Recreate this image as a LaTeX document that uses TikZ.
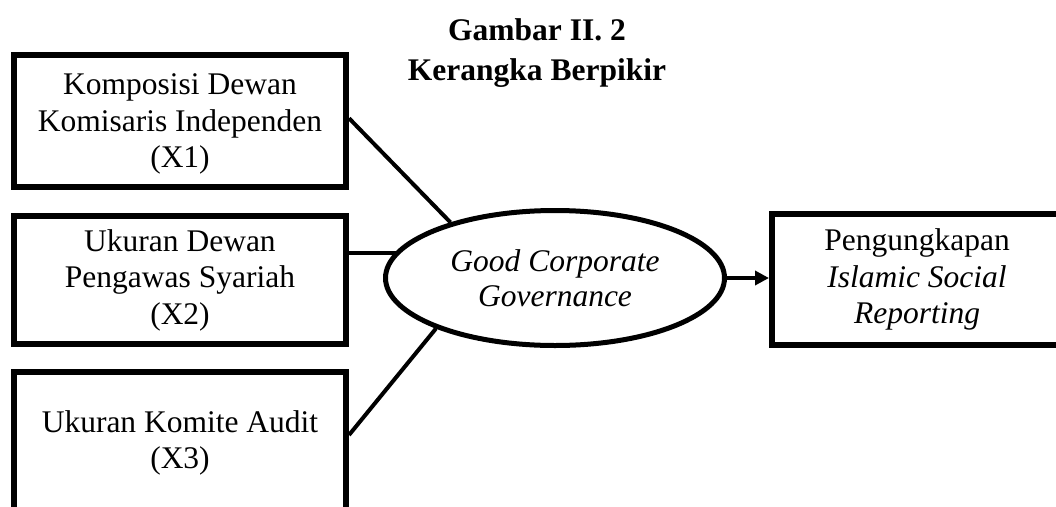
\documentclass[tikz,border=0pt]{standalone}
\usepackage{fontspec}
\setmainfont{Liberation Serif}
\usetikzlibrary{shapes.geometric,arrows.meta,calc,backgrounds}
\begin{document}
\begin{tikzpicture}[x=1pt,y=-1pt,
  txt/.style={font=\fontsize{31.5}{36.5}\selectfont, align=center},
  varbox/.style={txt, draw, line width=6pt, rectangle, inner sep=0pt},
  latent/.style={font=\fontsize{31.5}{35}\selectfont, align=center, draw, fill=white, line width=5pt, ellipse, inner sep=0pt, minimum width=339pt, minimum height=135pt},
  link/.style={line width=4pt},
  titletxt/.style={font=\fontsize{31.5}{40}\selectfont\bfseries, align=center, inner sep=0pt}
]
\useasboundingbox (0,0) rectangle (1056,506);
\clip (0,0) rectangle (1056,506);
\node[titletxt] (title) at (537,53) {Gambar II. 2\\Kerangka Berpikir};
\node[varbox, minimum width=332pt, minimum height=132pt] (b1) at (180,121) {\rule{0pt}{27pt}Komposisi Dewan\\Komisaris Independen\\(X1)};
\node[varbox, minimum width=332pt, minimum height=128pt] (b2) at (180,280) {Ukuran Dewan\\Pengawas Syariah\\(X2)};
\node[varbox, minimum width=332pt, minimum height=142pt] (b3) at (180,443) {Ukuran Komite Audit\\(X3)};
\node[latent] (gcg) at (555,278) {\itshape Good Corporate\\\itshape Governance};
\node[varbox, minimum width=290pt, minimum height=131pt] (isr) at (917,279.5) {Pengungkapan\\\itshape Islamic Social\\\itshape Reporting};
\begin{scope}[on background layer]
\coordinate (p2) at ($(b2.north east)!0.295!(b2.south east)$);
\draw[link] (p2) -- (p2 -| gcg.center);
\end{scope}
\draw[link] ($(b1.north east)!0.48!(b1.south east)$) -- (gcg.152.8);
\draw[link] ($(b3.north east)!0.446!(b3.south east)$) -- (gcg.203.8);
\draw[link, -{Triangle[length=14pt,width=14pt]}] (gcg.east) -- (gcg.east -| isr.west);
\end{tikzpicture}
\end{document}
